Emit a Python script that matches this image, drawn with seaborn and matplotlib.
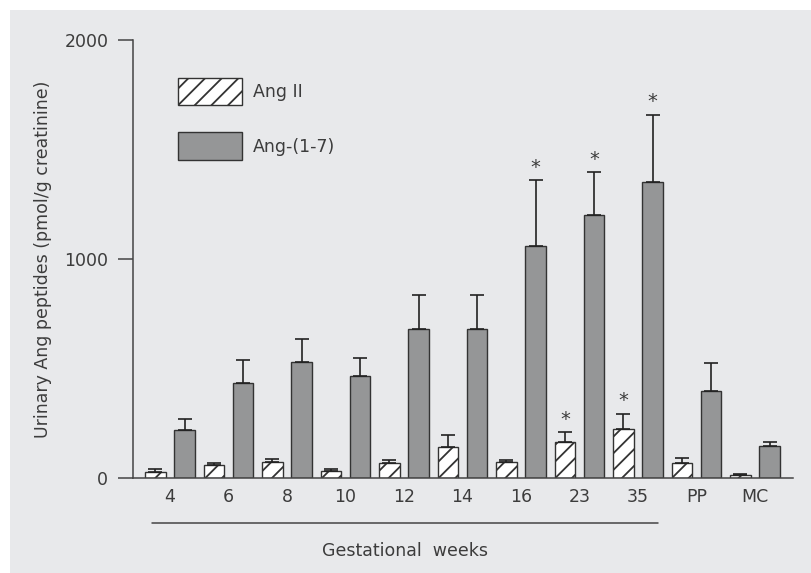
import numpy as np
import pandas as pd
import matplotlib
matplotlib.use("Agg")
import matplotlib.pyplot as plt
import matplotlib.transforms as mtransforms
from matplotlib.patches import Rectangle
import seaborn as sns

# ---- data ----
weeks = ["4", "6", "8", "10", "12", "14", "16", "23", "35", "PP", "MC"]
series = ["Ang II", "Ang-(1-7)"]
ang2_mean = [26, 61, 72, 32, 70, 142, 73, 164, 225, 70, 14]
ang2_se = [17, 6, 16, 11, 14, 53, 8, 45, 69, 21, 4]
ang17_mean = [218, 435, 528, 467, 680, 680, 1061, 1199, 1352, 399, 145]
ang17_se = [51, 102, 108, 82, 157, 156, 298, 198, 306, 125, 21]
ang2_sig = ["23", "35"]
ang17_sig = ["16", "23", "35"]
gest_span = ["4", "35"]
yticks = [0, 1000, 2000]

df = pd.DataFrame({
    "week": weeks * 2,
    "peptide": [series[0]] * len(weeks) + [series[1]] * len(weeks),
    "value": ang2_mean + ang17_mean,
})

sns.set_style("ticks")
plt.rcParams["font.family"] = ["DejaVu Sans"]
plt.rcParams["hatch.linewidth"] = 1.3
plt.rcParams["hatch.color"] = "#222222"

txt = "#3c3c3c"
dark = "#333333"
fs = 12.5

fig = plt.figure(figsize=(8.12, 5.73), dpi=100, facecolor="white")
W, H = 812, 573
fig.patches.append(Rectangle((10 / W, -0.05), 1.1, 1 - 10 / H + 0.05,
                             transform=fig.transFigure, facecolor="#e8e9eb",
                             edgecolor="none", zorder=-10))

ax = fig.add_axes([133 / W, 1 - 478 / H, (793 - 133) / W, (478 - 40) / H])
ax.set_facecolor("none")

sns.barplot(data=df, x="week", y="value", hue="peptide", order=weeks,
            hue_order=series, palette=["white", "#959697"], width=1.0, gap=0.3,
            edgecolor=dark, linewidth=1.0, errorbar=None, ax=ax, legend=False)

for p in ax.containers[0].patches:
    p.set_hatch("//")

for cont, se, sig in zip(ax.containers, [ang2_se, ang17_se], [ang2_sig, ang17_sig]):
    xs = [p.get_x() + p.get_width() / 2 for p in cont.patches]
    tops = [p.get_height() for p in cont.patches]
    ax.errorbar(xs, tops, yerr=[np.zeros(len(se)), se], fmt="none",
                ecolor="#222222", elinewidth=1.2, capsize=5, capthick=1.2, zorder=1)
    for wk in sig:
        i = weeks.index(wk)
        ax.annotate("*", (xs[i], tops[i] + se[i]), xytext=(0, 2.5),
                    textcoords="offset points", ha="center", va="bottom",
                    fontsize=14, color=txt)

ax.set_xlim(-37 / 58.5, 10 + 38 / 58.5)
ax.set_ylim(0, 2000)
ax.set_yticks(yticks)
ax.set_yticklabels([str(t) for t in yticks])
ax.set_xlabel("")
ax.set_ylabel("Urinary Ang peptides (pmol/g creatinine)", fontsize=fs, color=txt)
ax.yaxis.set_label_coords(-0.1227, 0.5)
sns.despine(ax=ax)
for s in ["left", "bottom"]:
    ax.spines[s].set_color("#444444")
    ax.spines[s].set_linewidth(1.1)
ax.tick_params(axis="y", length=10.8, width=1.1, color="#444444", pad=7,
               labelsize=fs, labelcolor=txt)
ax.tick_params(axis="x", length=0, pad=7, labelsize=fs, labelcolor=txt)

# gestational weeks bracket line
trans = mtransforms.blended_transform_factory(ax.transData, ax.transAxes)
x0 = weeks.index(gest_span[0]) - 0.31
x1 = weeks.index(gest_span[1]) + 0.34
ax.plot([x0, x1], [-0.1027, -0.1027], transform=trans, color="#444444",
        lw=1.1, clip_on=False)
ax.text((x0 + x1) / 2, -0.167, "Gestational  weeks", transform=trans,
        ha="center", va="center", fontsize=fs, color=txt)

leg = ax.legend(handles=list(ax.containers), labels=series, loc="upper left",
                bbox_to_anchor=((178 - 133) / 660, (478 - 78) / 438),
                frameon=False, borderpad=0, borderaxespad=0, fontsize=fs,
                handlelength=64 * 0.72 / fs, handleheight=1.27 * 28 * 0.72 / fs,
                labelspacing=1.56, handletextpad=0.65)
for t in leg.get_texts():
    t.set_color(txt)

fig.savefig("out.png", dpi=100, facecolor=fig.get_facecolor())
